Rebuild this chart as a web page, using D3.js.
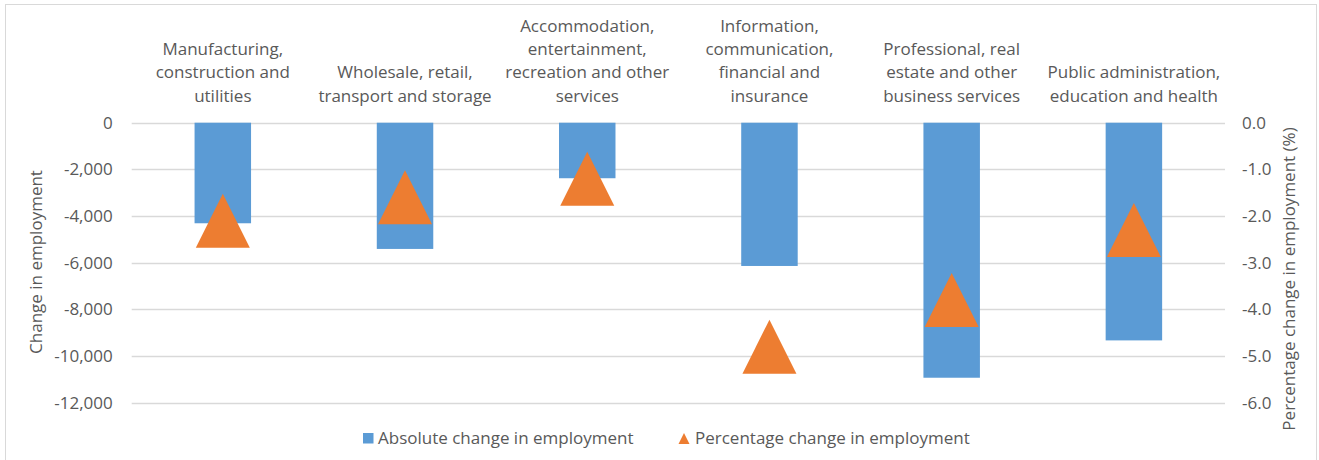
<!DOCTYPE html>
<html lang="en">
<head>
    <meta charset="UTF-8">
    <script src="https://d3js.org/d3.v7.min.js"></script>
    <style>
        body {margin: 0; background-color: #ffffff}
        svg {display: block}
        text {font-family: "Open Sans", "Noto Sans", sans-serif; fill: #595959}
    </style>
</head>
<body>
<svg class="chart"></svg>
<script type="text/javascript">
    // data
    let categories = [
        "Manufacturing, construction and utilities",
        "Wholesale, retail, transport and storage",
        "Accommodation, entertainment, recreation and other services",
        "Information, communication, financial and insurance",
        "Professional, real estate and other business services",
        "Public administration, education and health"
    ];
    let categoryLines = [
        ["Manufacturing,", "construction and", "utilities"],
        ["Wholesale, retail,", "transport and storage"],
        ["Accommodation,", "entertainment,", "recreation and other", "services"],
        ["Information,", "communication,", "financial and", "insurance"],
        ["Professional, real", "estate and other", "business services"],
        ["Public administration,", "education and health"]
    ];
    let absoluteChange = [-4310, -5410, -2380, -6140, -10930, -9330];
    let percentChange = [-2.1, -1.6, -1.2, -4.8, -3.8, -2.3];
    let leftTicks = [0, -2000, -4000, -6000, -8000, -10000, -12000];
    let rightTicks = [0, -1, -2, -3, -4, -5, -6];
    let seriesNames = ["Absolute change in employment", "Percentage change in employment"];

    let chart_width = 1319;
    let chart_height = 460;
    let plot = {left: 131.7, right: 1225, top: 122.7, bottom: 402.7};
    let blue = "#5b9bd5", orange = "#ed7d31", grid = "#d9d9d9";

    var svg = d3.select('.chart')
        .attr("width", chart_width)
        .attr("height", chart_height);

    // chart border
    svg.append('rect')
        .attr('x', 5.5).attr('y', 4.5)
        .attr('width', 1311).attr('height', 480)
        .attr('fill', 'none').attr('stroke', grid);

    var locale = d3.formatLocale({decimal: ".", thousands: ",", grouping: [3], currency: ["", ""], minus: "-"});
    var fmtLeft = locale.format(",");
    var fmtRight = locale.format(".1f");

    var x_range = d3.scaleBand()
        .domain(categories)
        .range([plot.left, plot.right]);

    var y_left = d3.scaleLinear()
        .domain([-12000, 0])
        .range([plot.bottom, plot.top]);

    var y_right = d3.scaleLinear()
        .domain([-6, 0])
        .range([plot.bottom, plot.top]);

    // gridlines
    svg.append('g').selectAll('line').data(leftTicks).enter().append('line')
        .attr('x1', plot.left).attr('x2', plot.right)
        .attr('y1', d => Math.round(y_left(d)) + 0.5)
        .attr('y2', d => Math.round(y_left(d)) + 0.5)
        .attr('stroke', grid).attr('stroke-width', 1.3);

    // left axis
    var leftAxis = svg.append('g')
        .attr('transform', 'translate(' + plot.left + ',0)')
        .call(d3.axisLeft(y_left).tickValues(leftTicks).tickFormat(fmtLeft).tickSize(0).tickPadding(19));
    leftAxis.select('.domain').remove();
    leftAxis.selectAll('text').attr('font-size', 17).attr('fill', '#595959')
        .attr('font-family', '"Open Sans", sans-serif');

    // right axis
    var rightAxis = svg.append('g')
        .attr('transform', 'translate(' + plot.right + ',0)')
        .call(d3.axisRight(y_right).tickValues(rightTicks).tickFormat(fmtRight).tickSize(0).tickPadding(17));
    rightAxis.select('.domain').remove();
    rightAxis.selectAll('text').attr('font-size', 17).attr('fill', '#595959')
        .attr('font-family', '"Open Sans", sans-serif');

    // category labels, bottom aligned above the plot
    var lineGap = 23.3;
    svg.append('g').selectAll('text').data(categories).enter().append('text')
        .attr('text-anchor', 'middle')
        .attr('font-size', 17)
        .each(function (d, i) {
            var lines = categoryLines[i];
            var cx = x_range(d) + x_range.bandwidth() / 2;
            d3.select(this).selectAll('tspan').data(lines).enter().append('tspan')
                .attr('x', cx)
                .attr('y', (l, j) => 101.7 - (lines.length - 1 - j) * lineGap)
                .text(l => l);
        });

    // bars
    var barWidth = x_range.bandwidth() * 0.31;
    svg.append('g').selectAll('rect').data(absoluteChange).enter().append('rect')
        .attr('x', (d, i) => x_range(categories[i]) + (x_range.bandwidth() - barWidth) / 2)
        .attr('y', y_left(0))
        .attr('width', barWidth)
        .attr('height', d => y_left(d) - y_left(0))
        .attr('fill', blue);

    // triangle marker centred on its bounding box, like the spreadsheet one
    var triangle = {
        draw: function (ctx, size) {
            var s = Math.sqrt(size);
            ctx.moveTo(0, -s / 2);
            ctx.lineTo(s / 2, s / 2);
            ctx.lineTo(-s / 2, s / 2);
            ctx.closePath();
        }
    };

    svg.append('g').selectAll('path').data(percentChange).enter().append('path')
        .attr('transform', (d, i) => 'translate(' + (x_range(categories[i]) + x_range.bandwidth() / 2) + ',' + y_right(d) + ')')
        .attr('d', d3.symbol().type(triangle).size(54 * 54))
        .attr('fill', orange);

    // axis titles
    svg.append('text')
        .attr('transform', 'translate(42,262) rotate(-90)')
        .attr('text-anchor', 'middle')
        .attr('font-size', 17)
        .text('Change in employment');

    svg.append('text')
        .attr('transform', 'translate(1295,279) rotate(-90)')
        .attr('text-anchor', 'middle')
        .attr('font-size', 17)
        .text('Percentage change in employment (%)');

    // legend
    var legend = svg.append('g');
    legend.append('rect')
        .attr('x', 363).attr('y', 433)
        .attr('width', 10.5).attr('height', 10.5)
        .attr('fill', blue);
    legend.append('text')
        .attr('x', 378).attr('y', 444)
        .attr('font-size', 17)
        .text(seriesNames[0]);
    legend.append('path')
        .attr('transform', 'translate(684,438.5)')
        .attr('d', d3.symbol().type(triangle).size(11 * 11))
        .attr('fill', orange);
    legend.append('text')
        .attr('x', 695).attr('y', 444)
        .attr('font-size', 17)
        .text(seriesNames[1]);
</script>
</body>
</html>
